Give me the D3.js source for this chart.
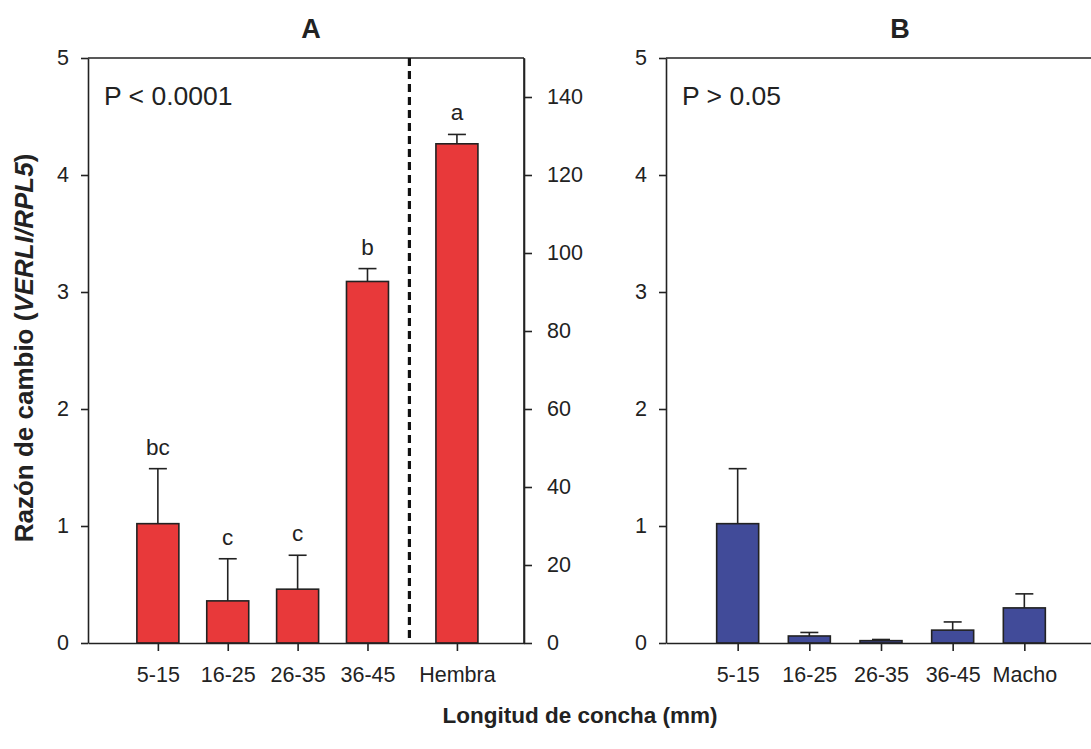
<!DOCTYPE html>
<html><head><meta charset="utf-8">
<script src="https://cdn.jsdelivr.net/npm/d3@7"></script>
<style>
body{margin:0;background:#fff;}
text{font-family:"Liberation Sans",Arial,sans-serif;fill:#222;}
</style></head>
<body><svg id="c" width="1091" height="749"></svg>
<script>
// ---- data ----
const catsA = ["5-15","16-25","26-35","36-45","Hembra"];
const valsA = [1.02, 0.36, 0.46, 3.09, 128];   // Hembra on right axis
const errsA = [0.47, 0.36, 0.29, 0.11, 2.4];
const lettersA = ["bc","c","c","b","a"];
const catsB = ["5-15","16-25","26-35","36-45","Macho"];
const valsB = [1.02, 0.06, 0.02, 0.11, 0.30];
const errsB = [0.47, 0.03, 0.01, 0.07, 0.12];
const leftTicks = [0,1,2,3,4,5];
const rightTicks = [0,20,40,60,80,100,120,140];
const posA = [1,2,3,4,5.28];   // category positions (Hembra separated)
const posB = [1,2,3,4,5];

const svg = d3.select("#c");
const red = "#e8393a", blue = "#414b99", ink = "#222";
const y0 = 643, yTop = 58;

const yL = d3.scaleLinear().domain([0,5]).range([y0,yTop]);
const yR = d3.scaleLinear().domain([0,150]).range([y0,yTop]);

function styleAxis(g){
  g.select(".domain").attr("stroke",ink).attr("stroke-width",1.6);
  g.selectAll(".tick line").attr("stroke",ink).attr("stroke-width",1.6);
  g.selectAll(".tick text").style("font-size","21.5px").attr("fill","#2a2a2a");
}

function panel(cfg){
  const x = d3.scaleLinear().domain(cfg.domain).range(cfg.range);
  const g = svg.append("g");
  const bw = 42;
  g.append("line").attr("x1",cfg.range[0]).attr("x2",cfg.range[1])
    .attr("y1",yTop).attr("y2",yTop).attr("stroke",ink).attr("stroke-width",1.6);
  cfg.vals.forEach((v,i)=>{
    const ys = cfg.scaleFor(i);
    const cx = x(cfg.pos[i]);
    g.append("line").attr("x1",cx).attr("x2",cx)
      .attr("y1",ys(v)).attr("y2",ys(v+cfg.errs[i])).attr("stroke",ink).attr("stroke-width",1.6);
    g.append("line").attr("x1",cx-9).attr("x2",cx+9)
      .attr("y1",ys(v+cfg.errs[i])).attr("y2",ys(v+cfg.errs[i])).attr("stroke",ink).attr("stroke-width",1.6);
    g.append("rect").attr("x",cx-bw/2).attr("width",bw)
      .attr("y",ys(v)).attr("height",y0-ys(v))
      .attr("fill",cfg.color).attr("stroke",ink).attr("stroke-width",1.6);
    if(cfg.letters){
      g.append("text").attr("x",cx).attr("y",ys(v+cfg.errs[i])-14)
        .attr("text-anchor","middle").style("font-size","22.5px").text(cfg.letters[i]);
    }
  });
  const ax = d3.axisBottom(x).tickValues(cfg.pos).tickFormat((d,i)=>cfg.cats[i])
    .tickSize(8).tickSizeOuter(0).tickPadding(16);
  g.append("g").attr("transform",`translate(0,${y0})`).call(ax).call(styleAxis);
  const al = d3.axisLeft(yL).tickValues(leftTicks).tickFormat(d3.format("d"))
    .tickSize(7).tickSizeOuter(0).tickPadding(12);
  g.append("g").attr("transform",`translate(${cfg.range[0]},0)`).call(al).call(styleAxis);
  g.append("text").attr("x",cfg.range[0]+16).attr("y",105).style("font-size","26.5px").text(cfg.ptext);
  g.append("text").attr("x",cfg.titleX).attr("y",38).attr("text-anchor","middle")
    .style("font-size","27px").style("font-weight","bold").text(cfg.title);
  return {g,x};
}

const A = panel({domain:[0,6.24], range:[88,524], pos:posA, vals:valsA, errs:errsA,
  cats:catsA, letters:lettersA, color:red, ptext:"P < 0.0001", title:"A", titleX:311,
  scaleFor:i=> i===4 ? yR : yL});
const ar = d3.axisRight(yR).tickValues(rightTicks).tickSize(8).tickSizeOuter(0).tickPadding(15);
A.g.append("g").attr("transform","translate(524,0)").call(ar).call(styleAxis);
A.g.append("line").attr("x1",524).attr("x2",524).attr("y1",yTop).attr("y2",y0)
  .attr("stroke",ink).attr("stroke-width",1.6);
A.g.append("line").attr("x1",A.x(4.6)).attr("x2",A.x(4.6)).attr("y1",yTop).attr("y2",y0)
  .attr("stroke","#111").attr("stroke-width",3.2).attr("stroke-dasharray","8,5");

panel({domain:[0,6], range:[666,1096], pos:posB, vals:valsB, errs:errsB,
  cats:catsB, letters:null, color:blue, ptext:"P > 0.05", title:"B", titleX:900,
  scaleFor:()=>yL});

const yt = svg.append("text").attr("transform","translate(33,348) rotate(-90)")
  .attr("text-anchor","middle").style("font-size","26px").style("font-weight","bold");
yt.append("tspan").text("Razón de cambio (");
yt.append("tspan").style("font-style","italic").text("VERLI/RPL5");
yt.append("tspan").text(")");
svg.append("text").attr("x",580).attr("y",723).attr("text-anchor","middle")
  .style("font-size","22.5px").style("font-weight","bold").text("Longitud de concha (mm)");
</script></body></html>
